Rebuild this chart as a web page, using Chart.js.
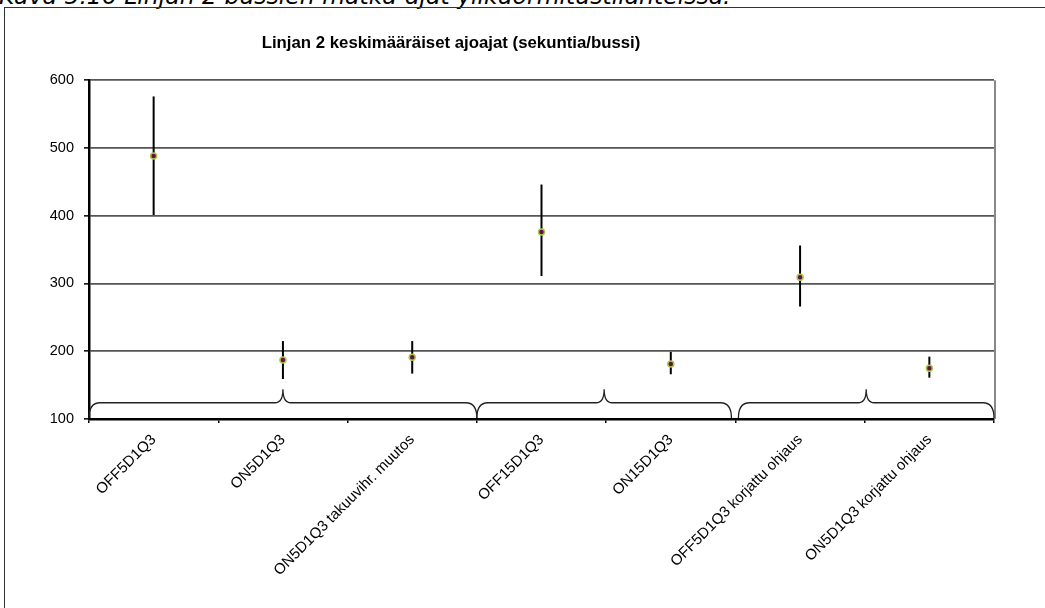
<!DOCTYPE html>
<html>
<head>
<meta charset="utf-8">
<script src="https://cdn.jsdelivr.net/npm/chart.js@4.4.1/dist/chart.umd.min.js"></script>
<style>
  html, body { margin: 0; padding: 0; background: #fff; overflow: hidden; }
  #kuvateksti {
    position: absolute; left: -1px; top: -15px;
    font: italic 23.5px/23.5px "DejaVu Sans", sans-serif;
    color: #000; white-space: nowrap;
  }
  #kehys {
    position: absolute; left: 4px; top: 7px; width: 1200px; height: 800px;
    border: 1.5px solid #333;
  }
  #grafica { position: absolute; left: 0; top: 0; }
</style>
</head>
<body>
<div id="kuvateksti">Kuva 5.16 Linjan 2 bussien matka-ajat ylikuormitustilanteissa.</div>
<div id="kehys"></div>
<canvas id="grafica" width="1045" height="608"></canvas>
<script>
const kategoriat = [
  "OFF5D1Q3",
  "ON5D1Q3",
  "ON5D1Q3 takuuvihr. muutos",
  "OFF15D1Q3",
  "ON15D1Q3",
  "OFF5D1Q3 korjattu ohjaus",
  "ON5D1Q3 korjattu ohjaus",
];
const keskiarvot = [488, 187, 191, 376, 181, 309, 175];
const ylarajat = [576, 215, 215, 446, 199, 356, 192];
const alarajat = [401, 159, 167, 311, 166, 266, 161];
// aaltosulkeet: kategorioiden indeksit alusta loppuun
const ryhmat = [[0, 2], [3, 4], [5, 6]];

// virhepalkit alarajasta ylärajaan
const virhepalkit = {
  id: "virhepalkit",
  beforeDatasetsDraw(chart) {
    const { ctx, scales: { x, y } } = chart;
    ctx.save();
    ctx.strokeStyle = "#000";
    ctx.lineWidth = 2;
    keskiarvot.forEach((_, i) => {
      const px = x.getPixelForValue(i);
      ctx.beginPath();
      ctx.moveTo(px, y.getPixelForValue(ylarajat[i]));
      ctx.lineTo(px, y.getPixelForValue(alarajat[i]));
      ctx.stroke();
    });
    ctx.restore();
  },
};

// ryhmittelevät aaltosulkeet x-akselin yllä + oikea reuna
const sulkeet = {
  id: "sulkeet",
  afterDraw(chart) {
    const { ctx, chartArea, scales: { x, y } } = chart;
    const askel = x.getPixelForValue(1) - x.getPixelForValue(0);
    const pohja = y.getPixelForValue(y.min) - 1;
    const taso = y.getPixelForValue(124);
    const karki = y.getPixelForValue(144);
    ctx.save();
    ctx.strokeStyle = "#888";
    ctx.lineWidth = 2;
    ctx.beginPath();
    ctx.moveTo(chartArea.right + 1, chartArea.top);
    ctx.lineTo(chartArea.right + 1, chartArea.bottom);
    ctx.stroke();

    ctx.strokeStyle = "#222";
    ctx.lineWidth = 1.3;
    ryhmat.forEach(([a, b], n) => {
      const vasen = x.getPixelForValue(a) - askel / 2 + (n === 2 ? 3 : 0);
      const oikea = x.getPixelForValue(b) + askel / 2 - (n === 1 ? 4 : 0);
      const keski = (vasen + oikea) / 2;
      const r = 11, r2 = 8;
      ctx.beginPath();
      ctx.moveTo(vasen, pohja);
      ctx.quadraticCurveTo(vasen, taso, vasen + r, taso);
      ctx.lineTo(keski - r2, taso);
      ctx.quadraticCurveTo(keski, taso, keski, karki);
      ctx.quadraticCurveTo(keski, taso, keski + r2, taso);
      ctx.lineTo(oikea - r, taso);
      ctx.quadraticCurveTo(oikea, taso, oikea, pohja);
      ctx.stroke();
    });
    ctx.restore();
  },
};

// otsikko keskitetään kehyksen mukaan, ei koko kanvaasin
const otsikonPaikka = {
  id: "otsikonPaikka",
  afterLayout(chart) {
    chart.titleBlock.left = 0;
    chart.titleBlock.right = 902;
    chart.titleBlock.width = 902;
  },
};

const ctx = document.getElementById("grafica").getContext("2d");
const grafica = new Chart(ctx, {
  type: "line",
  data: {
    labels: kategoriat,
    datasets: [
      {
        label: "Keskiarvo",
        data: keskiarvot,
        showLine: false,
        pointRadius: 3,
        pointBackgroundColor: "#66104a",
        pointBorderColor: "#a8c84a",
        pointBorderWidth: 1.5,
      },
    ],
  },
  options: {
    responsive: false,
    animation: false,
    devicePixelRatio: 1,
    layout: { padding: { left: 0, right: 51, top: 0, bottom: 0 } },
    plugins: {
      legend: { display: false },
      tooltip: { enabled: false },
      title: {
        display: true,
        text: "Linjan 2 keskimääräiset ajoajat (sekuntia/bussi)",
        color: "#000",
        font: { family: "Liberation Sans", size: 16.8, weight: "bold", lineHeight: 1.2 },
        padding: { top: 33, bottom: 27 },
      },
    },
    scales: {
      x: {
        offset: true,
        grid: {
          offset: true,
          drawOnChartArea: false,
          drawTicks: true,
          tickLength: 4,
          color: "#000",
          lineWidth: 1.5,
        },
        border: { color: "#000", width: 2.5 },
        ticks: {
          autoSkip: false,
          minRotation: 45,
          maxRotation: 45,
          padding: 8,
          color: "#000",
          font: { family: "Liberation Sans", size: 15 },
        },
        afterFit(scale) { scale.height = 189; },
      },
      y: {
        min: 100,
        max: 600,
        ticks: {
          stepSize: 100,
          padding: 10,
          color: "#000",
          font: { family: "Liberation Sans", size: 14.5 },
        },
        grid: {
          color: "#555",
          lineWidth: 1.7,
          tickColor: "#000",
          tickLength: 5,
          tickWidth: 1.5,
        },
        border: { color: "#000", width: 2.5 },
        afterFit(scale) { scale.width = 89; },
      },
    },
  },
  plugins: [virhepalkit, sulkeet, otsikonPaikka],
});
</script>
</body>
</html>
